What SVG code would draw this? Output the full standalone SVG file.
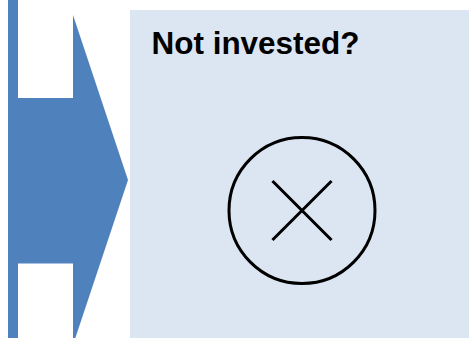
<svg xmlns="http://www.w3.org/2000/svg" width="469" height="338" viewBox="0 0 469 338">
<style>
.arrow{fill:#4F81BD}
.panel{fill:#DCE6F2}
.title{font-family:"Liberation Sans",Arial,sans-serif;font-weight:bold;font-size:31.5px;fill:#000}
.icon{fill:none;stroke:#000;stroke-width:3}
</style>
<rect width="469" height="338" fill="#FFFFFF"/>
<g id="arrow">
<rect class="arrow" x="8" y="0" width="10" height="338"/>
<path class="arrow" d="M8,98 H73 V15 L128,180 L73,345 V263.5 H8 Z"/>
</g>
<g id="panel">
<rect class="panel" x="130" y="10" width="339" height="328"/>
<text class="title" x="151.5" y="54" textLength="208" lengthAdjust="spacingAndGlyphs">Not invested?</text>
</g>
<g id="cross-icon">
<circle class="icon" cx="302" cy="210.5" r="73"/>
<path class="icon" d="M273.5,182 L330.5,239 M330.5,182 L273.5,239" stroke-linecap="square"/>
</g>
</svg>
